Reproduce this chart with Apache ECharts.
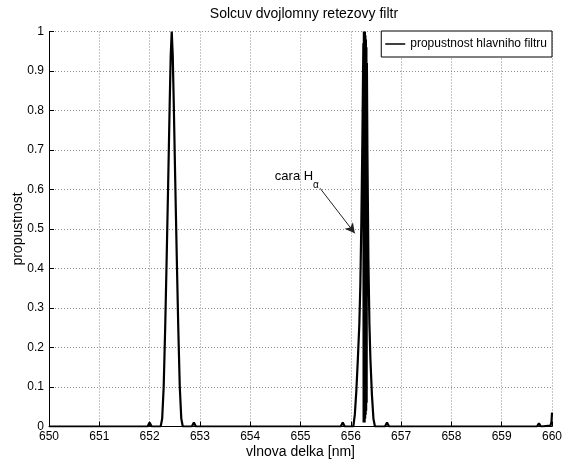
<!DOCTYPE html>
<html>
<head>
<meta charset="utf-8">
<title>Solcuv dvojlomny retezovy filtr</title>
<script src="https://cdn.jsdelivr.net/npm/echarts@6/dist/echarts.min.js"></script>
<style>
  html, body { margin: 0; padding: 0; background: #fff; }
  #chart { width: 563px; height: 460px; }
</style>
</head>
<body>
<div id="chart"></div>
<script>
// wavelength [nm] and transmission
const wavelength = [
  650, 651.96, 652.0, 652.04,
  652.22, 652.25, 652.28, 652.31, 652.34, 652.37, 652.40, 652.42, 652.44,
  652.46, 652.48, 652.51, 652.54, 652.57, 652.60, 652.63, 652.66,
  652.84, 652.88, 652.92,
  655.80, 655.84, 655.88,
  656.05, 656.08, 656.11, 656.14, 656.17, 656.19, 656.21, 656.23, 656.24,
  656.25, 656.255, 656.26, 656.265, 656.27, 656.275, 656.28, 656.285, 656.29,
  656.295, 656.30, 656.305, 656.31, 656.315, 656.32,
  656.33, 656.35, 656.37, 656.39, 656.42, 656.45, 656.48,
  656.68, 656.72, 656.76,
  659.70, 659.74, 659.78, 659.97, 659.99, 660
];
const transmission = [
  0, 0, 0.01, 0,
  0, 0.02, 0.1, 0.25, 0.43, 0.62, 0.82, 0.94, 1.0,
  0.94, 0.82, 0.62, 0.43, 0.25, 0.1, 0.02, 0,
  0, 0.01, 0,
  0, 0.01, 0,
  0, 0.03, 0.09, 0.17, 0.26, 0.36, 0.52, 0.72, 0.85,
  0.97, 0.01, 1.0, 0.02, 1.0, 0.01, 1.0, 0.02, 0.99,
  0.03, 0.98, 0.04, 0.96, 0.06, 0.92,
  0.7, 0.42, 0.26, 0.17, 0.08, 0.02, 0,
  0, 0.01, 0,
  0, 0.008, 0, 0.002, 0.012, 0.035
];
const xTicks = [650, 651, 652, 653, 654, 655, 656, 657, 658, 659, 660];
const yTicks = [0, 0.1, 0.2, 0.3, 0.4, 0.5, 0.6, 0.7, 0.8, 0.9, 1];

// annotation "cara H alpha" with arrow
const arrowFrom = [655.39, 0.603];
const arrowTo = [656.08, 0.489];
const notePos = [654.49, 0.634];
const subPos = [655.25, 0.612];

const seriesData = wavelength.map((x, i) => [x, transmission[i]]);

const font = 'Liberation Sans, Arial, Helvetica, sans-serif';
const gridLine = { show: true, lineStyle: { color: '#8c8c8c', type: [1, 2], width: 1 } };

const chart = echarts.init(document.getElementById('chart'), null, { renderer: 'canvas' });

chart.setOption({
  animation: false,
  backgroundColor: '#fff',
  textStyle: { fontFamily: font, color: '#000' },
  title: {
    text: 'Solcuv dvojlomny retezovy filtr',
    left: 299,
    textAlign: 'center',
    top: 2,
    textStyle: { fontFamily: font, fontSize: 14, fontWeight: 'normal', color: '#000' }
  },
  legend: {
    data: ['propustnost hlavniho filtru'],
    icon: 'rect',
    right: 11,
    top: 31,
    padding: [6, 5, 6, 4],
    itemWidth: 20,
    itemHeight: 1.5,
    backgroundColor: '#fff',
    borderColor: '#000',
    borderWidth: 1,
    borderRadius: 0,
    textStyle: { fontFamily: font, fontSize: 12, color: '#000', lineHeight: 14 }
  },
  grid: {
    left: 49, right: 11, top: 31.5, bottom: 33.5,
    containLabel: false,
    outerBoundsMode: 'none'
  },
  xAxis: {
    type: 'value',
    min: xTicks[0],
    max: xTicks[xTicks.length - 1],
    interval: 1,
    name: 'vlnova delka [nm]',
    nameLocation: 'middle',
    nameGap: 19,
    nameMoveOverlap: false,
    nameTextStyle: { fontFamily: font, fontSize: 14, color: '#000' },
    axisLine: { show: true, onZero: false, lineStyle: { color: '#000', width: 1 } },
    axisTick: { show: true, inside: true, length: 5, lineStyle: { color: '#000' } },
    axisLabel: { fontFamily: font, fontSize: 12, color: '#000', margin: 4, showMinLabel: true, showMaxLabel: true },
    splitLine: gridLine
  },
  yAxis: {
    type: 'value',
    min: yTicks[0],
    max: yTicks[yTicks.length - 1],
    interval: 0.1,
    name: 'propustnost',
    nameLocation: 'middle',
    nameGap: 24,
    nameMoveOverlap: false,
    nameTextStyle: { fontFamily: font, fontSize: 14, color: '#000' },
    axisLine: { show: true, lineStyle: { color: '#000', width: 1 } },
    axisTick: { show: true, inside: true, length: 5, lineStyle: { color: '#000' } },
    axisLabel: { fontFamily: font, fontSize: 12, color: '#000', margin: 5 },
    splitLine: gridLine
  },
  series: [{
    name: 'propustnost hlavniho filtru',
    type: 'line',
    data: seriesData,
    symbol: 'none',
    showSymbol: false,
    lineStyle: { color: '#000', width: 2.2 },
    itemStyle: { color: '#000' },
    z: 3,
    markLine: {
      silent: true,
      animation: false,
      symbol: ['none', 'arrow'],
      symbolSize: [8, 10],
      label: { show: false },
      lineStyle: { color: '#222', width: 1, type: 'solid' },
      data: [[{ coord: arrowFrom }, { coord: arrowTo }]]
    },
    markPoint: {
      silent: true,
      animation: false,
      symbol: 'circle',
      symbolSize: 0,
      data: [
        {
          coord: notePos,
          label: { show: true, position: 'right', distance: 0, formatter: 'cara H', fontFamily: font, fontSize: 13, color: '#000' }
        },
        {
          coord: subPos,
          label: { show: true, position: 'right', distance: 0, formatter: 'α', fontFamily: font, fontSize: 10, color: '#000' }
        }
      ]
    }
  }]
});
</script>
</body>
</html>
